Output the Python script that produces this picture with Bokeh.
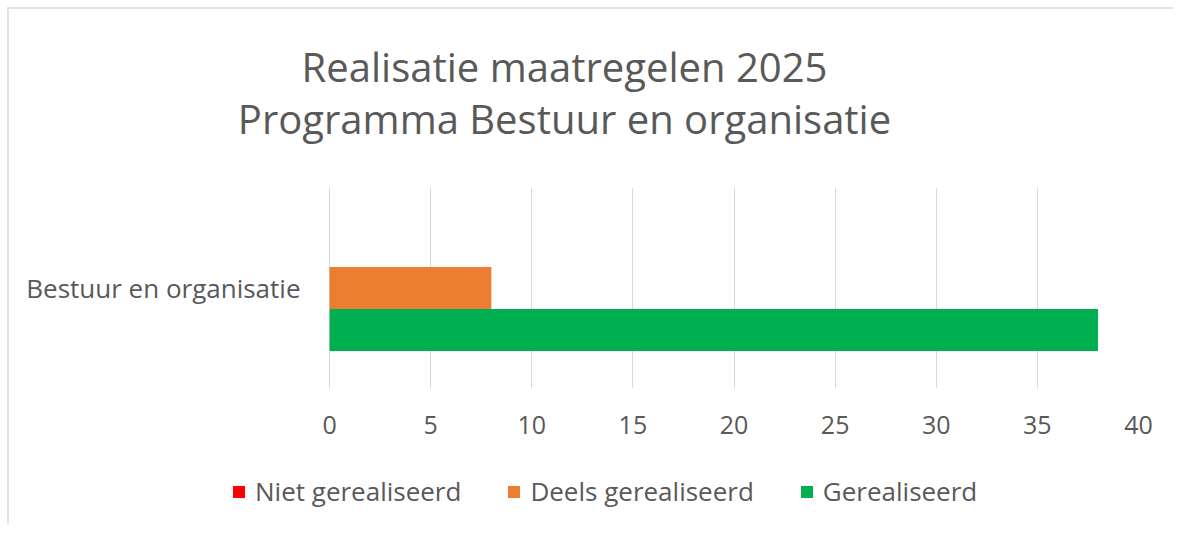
from bokeh.plotting import figure
from bokeh.layouts import column
from bokeh.models import FactorRange, Range1d, FixedTicker, Legend, LegendItem, Label
from bokeh.transform import dodge
from bokeh.embed import file_html
from bokeh.resources import INLINE

# ---- data ----
categories = ["Bestuur en organisatie"]
series_names = ["Niet gerealiseerd", "Deels gerealiseerd", "Gerealiseerd"]
niet_gerealiseerd = [0]
deels_gerealiseerd = [8]
gerealiseerd = [38]
series_colors = ["#FF0000", "#ED7D31", "#00B050"]
x_ticks = [0, 5, 10, 15, 20, 25, 30, 35, 40]
title_line1 = "Realisatie maatregelen 2025"
title_line2 = "Programma Bestuur en organisatie"

FONT = "Open Sans"
TXT = "#595959"
W = 1164
LB, RB = 224, 35   # left / right borders shared by the three stacked figures


def bare(fig):
    fig.outline_line_color = None
    fig.background_fill_color = "white"
    fig.border_fill_color = "white"
    return fig


# ---- header with the two-line title ----
head = bare(figure(width=W, height=178, output_backend="svg", toolbar_location=None,
                   x_range=Range1d(0, 1), y_range=Range1d(0, 1),
                   x_axis_location=None, y_axis_location=None,
                   min_border_left=LB, min_border_right=RB,
                   min_border_top=0, min_border_bottom=0))
head.grid.visible = False
for txt, yy in [(title_line1, 121), (title_line2, 69)]:
    head.add_layout(Label(x=331, y=yy, x_units="screen", y_units="screen", text=txt,
                          text_align="center", text_baseline="alphabetic",
                          text_font=FONT, text_font_size="40px", text_color=TXT))

# ---- main bar chart ----
p = bare(figure(
    width=W, height=273,
    y_range=FactorRange(factors=categories, range_padding=0),
    x_range=Range1d(-4.75, 40),
    output_backend="svg", toolbar_location=None,
    min_border_left=LB, min_border_right=RB,
    min_border_top=0, min_border_bottom=72,
))

data = {"cat": categories,
        series_names[0]: niet_gerealiseerd,
        series_names[1]: deels_gerealiseerd,
        series_names[2]: gerealiseerd}

bar_h = 0.209
offsets = [bar_h, 0.0, -bar_h]
for name, col, off in zip(series_names, series_colors, offsets):
    p.hbar(y=dodge("cat", off, range=p.y_range), left=0, right=name,
           height=bar_h, source=data, fill_color=col, line_color=None)

p.xaxis.ticker = FixedTicker(ticks=x_ticks)
p.xaxis.axis_line_color = None
p.xaxis.major_tick_line_color = None
p.xaxis.minor_tick_line_color = None
p.xaxis.major_tick_out = 0
p.xaxis.major_label_text_font = FONT
p.xaxis.major_label_text_font_size = "25px"
p.xaxis.major_label_text_color = TXT
p.xaxis.major_label_standoff = 27

p.yaxis.axis_line_color = None
p.yaxis.major_tick_line_color = None
p.yaxis.minor_tick_line_color = None
p.yaxis.major_tick_out = 0
p.yaxis.major_label_text_font = FONT
p.yaxis.major_label_text_font_size = "26px"
p.yaxis.major_label_text_color = TXT
p.yaxis.major_label_standoff = -67

p.ygrid.grid_line_color = None
p.xgrid.grid_line_color = "#d9d9d9"
p.xgrid.grid_line_width = 1

# ---- legend strip ----
leg = bare(figure(width=W, height=64, output_backend="svg", toolbar_location=None,
                  x_range=Range1d(0, 1), y_range=Range1d(0, 1),
                  x_axis_location=None, y_axis_location=None,
                  min_border_left=LB, min_border_right=RB,
                  min_border_top=0, min_border_bottom=0))
leg.grid.visible = False
items = []
for name, col, vals in zip(series_names, series_colors,
                           [niet_gerealiseerd, deels_gerealiseerd, gerealiseerd]):
    r = leg.hbar(y=[0], left=[0], right=vals, height=1, fill_color=col,
                 line_color=None, visible=False)
    items.append(LegendItem(label=name, renderers=[r]))
legend = Legend(items=items, orientation="horizontal", location=(-2, 15),
                glyph_width=15, glyph_height=15, label_standoff=9, spacing=45,
                padding=0, margin=0, border_line_color=None, background_fill_alpha=0,
                label_text_font=FONT, label_text_font_size="26px", label_text_color=TXT)
leg.add_layout(legend, "center")

layout = column(head, p, leg, spacing=0)
layout.styles = {"margin-top": "7px", "margin-left": "7px",
                 "border-top": "2px solid #e3e3e3", "border-left": "2px solid #e3e3e3"}

open("out.html", "w").write(file_html(layout, INLINE))
